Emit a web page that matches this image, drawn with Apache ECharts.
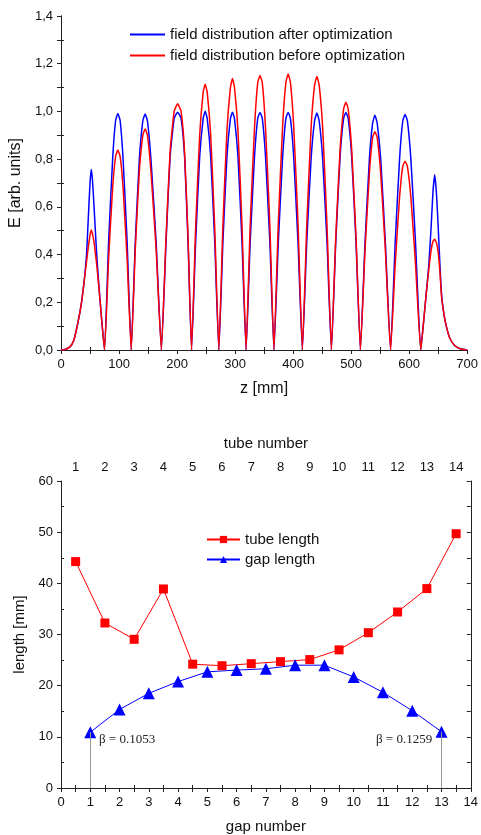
<!DOCTYPE html>
<html><head><meta charset="utf-8">
<script src="https://cdn.jsdelivr.net/npm/echarts@6/dist/echarts.min.js"></script>
<style>html,body{margin:0;padding:0;background:#fff}#c{width:481px;height:835px}</style>
</head><body><div id="c"></div>
<script>
// ---------- top chart: field distribution ----------
const zPos = [
  0,7,15,22,27,32,36,40,44,47,50,52,54,57,61,65,70,75,
  82,89,94,98,102,107,114,121,
  128,135,141,145,149,155,164,173,
  181,188,195,201,207,213,219,225,
  232,239,245,248.5,252,258,265,272,
  279,286,292,295.5,299,305,312,319,
  326,333.5,339,343,347,352.5,360,367,
  374.5,382,387.5,391.5,395.5,401,408.5,416,
  423.5,431,437,441,445,451,458.5,466,
  473.5,481,487,491,495,501,508.5,516,
  524,531.5,537,541,545,551,559,568,
  576,583.5,589,593,597,603,611,620,
  625,630,634,638,641,644,647,650,653,656,660,664,670,678,688,700
];
const eAfter = [
  0,0.002,0.012,0.04,0.09,0.15,0.21,0.29,0.40,0.55,0.70,0.757,0.72,0.60,0.42,0.28,0.13,0,
  0.45,0.80,0.96,0.991,0.96,0.80,0.45,0,
  0.45,0.80,0.96,0.989,0.96,0.80,0.45,0,
  0.45,0.81,0.97,0.997,0.97,0.81,0.45,0,
  0.45,0.81,0.97,1.001,0.97,0.81,0.45,0,
  0.45,0.81,0.97,0.997,0.97,0.81,0.45,0,
  0.45,0.81,0.97,0.996,0.97,0.81,0.45,0,
  0.45,0.81,0.97,0.996,0.97,0.81,0.45,0,
  0.45,0.80,0.96,0.993,0.96,0.80,0.45,0,
  0.45,0.81,0.97,0.996,0.97,0.81,0.45,0,
  0.45,0.80,0.95,0.984,0.95,0.80,0.45,0,
  0.45,0.80,0.96,0.987,0.96,0.80,0.45,0,
  0.12,0.25,0.36,0.52,0.66,0.735,0.66,0.52,0.36,0.23,0.15,0.10,0.05,0.02,0.005,0
];
const eBefore = [
  0,0.002,0.012,0.04,0.09,0.15,0.21,0.29,0.37,0.43,0.48,0.503,0.49,0.45,0.37,0.27,0.13,0,
  0.38,0.68,0.81,0.838,0.81,0.68,0.38,0,
  0.42,0.75,0.90,0.926,0.90,0.75,0.42,0,
  0.47,0.83,1.00,1.032,1.00,0.83,0.47,0,
  0.51,0.90,1.08,1.114,1.08,0.90,0.51,0,
  0.52,0.92,1.10,1.138,1.10,0.92,0.52,0,
  0.52,0.93,1.12,1.151,1.12,0.93,0.52,0,
  0.53,0.94,1.12,1.157,1.12,0.94,0.53,0,
  0.52,0.93,1.11,1.146,1.11,0.93,0.52,0,
  0.47,0.84,1.01,1.038,1.01,0.84,0.47,0,
  0.42,0.74,0.89,0.915,0.89,0.74,0.42,0,
  0.36,0.64,0.77,0.791,0.77,0.64,0.36,0,
  0.12,0.25,0.34,0.42,0.455,0.464,0.45,0.41,0.33,0.22,0.15,0.10,0.05,0.02,0.005,0
];
const zMinorTicks = [50,150,250,350,450,550,650];
const eMinorTicks = [0.1,0.3,0.5,0.7,0.9,1.1,1.3];

// ---------- bottom chart: tube / gap lengths ----------
const tubeNumber = [1,2,3,4,5,6,7,8,9,10,11,12,13,14];
const tubeLength = [44.25,32.25,29.06,38.9,24.2,23.9,24.3,24.7,25.1,27.0,30.35,34.4,38.97,49.7];
const gapNumber = [1,2,3,4,5,6,7,8,9,10,11,12,13];
const gapLength = [10.9,15.35,18.5,20.8,22.7,23.05,23.3,24.0,24.0,21.7,18.7,15.1,11.0];
const tubeTicks = [1,1.5,2,2.5,3,3.5,4,4.5,5,5.5,6,6.5,7,7.5,8,8.5,9,9.5,10,10.5,11,11.5,12,12.5,13,13.5,14];
const gapMinorTicks = [0.5,1.5,2.5,3.5,4.5,5.5,6.5,7.5,8.5,9.5,10.5,11.5,12.5,13.5];
const lenMinorTicks = [5,15,25,35,45,55];
const betaLabels = ['\u03B2 = 0.1053', '\u03B2 = 0.1259'];

const FONT = "'Liberation Sans', Arial, sans-serif";
const AX = '#222';
const chart = echarts.init(document.getElementById('c'), null, {renderer: 'canvas'});

function zip(a, b) { return a.map((v, i) => [v, b[i]]); }
const lineAx = {show: true, lineStyle: {color: AX, width: 1}};
const lab = {color: '#111', fontSize: 13, fontFamily: FONT};
const nameStyle = {color: '#111', fontSize: 16, fontFamily: FONT};
const nameStyle2 = {color: '#111', fontSize: 15, fontFamily: FONT};
const noSplit = {show: false};

const option = {
  animation: false,
  backgroundColor: '#fff',
  grid: [
    {left: 61, right: 8, top: 16, bottom: 485, containLabel: false},
    {left: 61, right: 8, top: 481, bottom: 47, containLabel: false}
  ],
  legend: [
    {
      data: ['field distribution after optimization', 'field distribution before optimization'],
      orient: 'vertical', left: 125, top: 22, itemWidth: 35, itemHeight: 2, itemGap: 6,
      icon: 'rect', textStyle: {color: '#111', fontSize: 15, fontFamily: FONT}
    },
    {
      data: ['tube length', 'gap length'],
      orient: 'vertical', left: 201, top: 527, itemWidth: 33, itemHeight: 9, itemGap: 5,
      textStyle: {color: '#111', fontSize: 15, fontFamily: FONT}
    }
  ],
  xAxis: [
    {gridIndex: 0, type: 'value', position: 'bottom', min: 0, max: 700, interval: 100,
     axisLine: lineAx, axisTick: {show: true, inside: false, length: 4, lineStyle: {color: AX}},
     axisLabel: lab, splitLine: noSplit,
     name: 'z [mm]', nameLocation: 'middle', nameGap: 31, nameTextStyle: nameStyle},
    {gridIndex: 0, type: 'value', position: 'bottom', min: 0, max: 700,
     axisLine: {show: false}, axisTick: {show: true, inside: true, length: 3, customValues: zMinorTicks, lineStyle: {color: AX}},
     axisLabel: {show: false}, splitLine: noSplit},
    {gridIndex: 0, type: 'value', position: 'top', min: 0, max: 700, interval: 50,
     axisLine: lineAx, axisTick: {show: true, inside: true, length: 4, lineStyle: {color: AX}},
     axisLabel: {show: false}, splitLine: noSplit},

    {gridIndex: 1, type: 'value', position: 'bottom', min: 0, max: 14, interval: 1,
     axisLine: lineAx, axisTick: {show: true, inside: false, length: 4, lineStyle: {color: AX}},
     axisLabel: lab, splitLine: noSplit,
     name: 'gap number', nameLocation: 'middle', nameGap: 31, nameTextStyle: nameStyle2},
    {gridIndex: 1, type: 'value', position: 'bottom', min: 0, max: 14,
     axisLine: {show: false}, axisTick: {show: true, inside: true, length: 3, customValues: gapMinorTicks, lineStyle: {color: AX}},
     axisLabel: {show: false}, splitLine: noSplit},
    {gridIndex: 1, type: 'value', position: 'top', min: 0.5, max: 14.5,
     axisLine: lineAx, axisTick: {show: true, inside: true, length: 4, customValues: tubeTicks, lineStyle: {color: AX}},
     axisLabel: Object.assign({}, lab, {customValues: tubeNumber, margin: 7}), splitLine: noSplit,
     name: 'tube number', nameLocation: 'middle', nameGap: 30, nameTextStyle: nameStyle2}
  ],
  yAxis: [
    {gridIndex: 0, type: 'value', position: 'left', min: 0, max: 1.4, interval: 0.2,
     axisLine: lineAx, axisTick: {show: true, inside: false, length: 4, lineStyle: {color: AX}},
     axisLabel: Object.assign({}, lab, {formatter: v => v.toFixed(1).replace('.', ',')}), splitLine: noSplit,
     name: 'E [arb. units]', nameLocation: 'middle', nameGap: 31, nameTextStyle: nameStyle},
    {gridIndex: 0, type: 'value', position: 'left', min: 0, max: 1.4,
     axisLine: {show: false}, axisTick: {show: true, inside: true, length: 3, customValues: eMinorTicks, lineStyle: {color: AX}},
     axisLabel: {show: false}, splitLine: noSplit},
    {gridIndex: 0, type: 'value', position: 'right', min: 0, max: 1.4, interval: 0.1,
     axisLine: lineAx, axisTick: {show: true, inside: true, length: 4, lineStyle: {color: AX}},
     axisLabel: {show: false}, splitLine: noSplit},

    {gridIndex: 1, type: 'value', position: 'left', min: 0, max: 60, interval: 10,
     axisLine: lineAx, axisTick: {show: true, inside: false, length: 4, lineStyle: {color: AX}},
     axisLabel: lab, splitLine: noSplit,
     name: 'length [mm]', nameLocation: 'middle', nameGap: 27, nameTextStyle: nameStyle2},
    {gridIndex: 1, type: 'value', position: 'left', min: 0, max: 60,
     axisLine: {show: false}, axisTick: {show: true, inside: true, length: 3, customValues: lenMinorTicks, lineStyle: {color: AX}},
     axisLabel: {show: false}, splitLine: noSplit},
    {gridIndex: 1, type: 'value', position: 'right', min: 0, max: 60, interval: 5,
     axisLine: lineAx, axisTick: {show: true, inside: true, length: 4, lineStyle: {color: AX}},
     axisLabel: {show: false}, splitLine: noSplit}
  ],
  series: [
    {name: 'field distribution after optimization', type: 'line', xAxisIndex: 0, yAxisIndex: 0,
     data: zip(zPos, eAfter), showSymbol: false, symbol: 'none', smooth: 0.15,
     itemStyle: {color: '#0000ff'}, lineStyle: {color: '#0000ff', width: 1.5}, z: 2},
    {name: 'field distribution before optimization', type: 'line', xAxisIndex: 0, yAxisIndex: 0,
     data: zip(zPos, eBefore), showSymbol: false, symbol: 'none', smooth: 0.15,
     itemStyle: {color: '#ff0000'}, lineStyle: {color: '#ff0000', width: 1.5}, z: 3},

    {name: 'tube length', type: 'line', xAxisIndex: 5, yAxisIndex: 3,
     data: zip(tubeNumber, tubeLength), symbol: 'rect', symbolSize: 9,
     itemStyle: {color: '#ff0000'}, lineStyle: {color: '#ff0000', width: 1}, z: 3},
    {name: 'gap length', type: 'line', xAxisIndex: 3, yAxisIndex: 3,
     data: zip(gapNumber, gapLength), symbol: 'triangle', symbolSize: 12,
     itemStyle: {color: '#0000ff'}, lineStyle: {color: '#0000ff', width: 1}, z: 3,
     markLine: {
       silent: true, symbol: 'none', label: {show: false},
       lineStyle: {color: '#999', width: 1, type: 'solid'},
       data: [
         [{coord: [gapNumber[0], 0]}, {coord: [gapNumber[0], gapLength[0]]}],
         [{coord: [gapNumber[gapNumber.length - 1], 0]}, {coord: [gapNumber[gapNumber.length - 1], gapLength[gapLength.length - 1]]}]
       ]
     }}
  ],
  graphic: [
    {type: 'text', left: 99, top: 733, style: {text: betaLabels[0], fill: '#222', font: "13px 'Liberation Serif', 'Times New Roman', serif"}},
    {type: 'text', left: 376, top: 733, style: {text: betaLabels[1], fill: '#222', font: "13px 'Liberation Serif', 'Times New Roman', serif"}}
  ]
};
chart.setOption(option);
</script>
</body></html>
